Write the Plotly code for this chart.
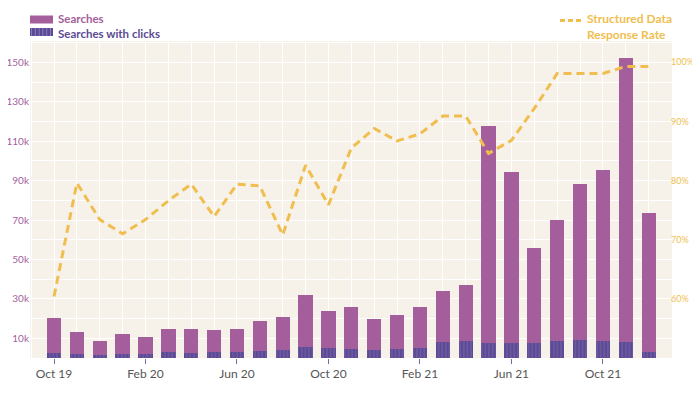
import plotly.graph_objects as go

months = ["Oct 19", "Nov 19", "Dec 19", "Jan 20", "Feb 20", "Mar 20", "Apr 20", "May 20", "Jun 20",
          "Jul 20", "Aug 20", "Sep 20", "Oct 20", "Nov 20", "Dec 20", "Jan 21", "Feb 21", "Mar 21",
          "Apr 21", "May 21", "Jun 21", "Jul 21", "Aug 21", "Sep 21", "Oct 21", "Nov 21", "Dec 21"]

searches = [20200, 13200, 8500, 12400, 10500, 14600, 14600, 14100, 14600,
            18600, 20600, 31800, 23700, 25700, 19600, 21700, 25900, 34200,
            36900, 117600, 94400, 55700, 69900, 88300, 95600, 152000, 73400]

searches_with_clicks = [2400, 2000, 1400, 2200, 1900, 2900, 2400, 2900, 3200,
                        3400, 4300, 5400, 4900, 4800, 3900, 4400, 5100, 8100,
                        8500, 7600, 7800, 7500, 8500, 9000, 8500, 8100, 3200]

response_rate = [60.4, 79.6, 73.4, 71.0, 73.4, 76.6, 79.4, 73.9, 79.4,
                 79.1, 70.8, 82.6, 75.9, 85.5, 88.8, 86.7, 87.9, 90.9,
                 90.9, 84.6, 86.8, 92.2, 98.1, 98.1, 98.1, 99.3, 99.3]

tick_months = ["Oct 19", "Feb 20", "Jun 20", "Oct 20", "Feb 21", "Jun 21", "Oct 21"]
left_ticks = [10000, 30000, 50000, 70000, 90000, 110000, 130000, 150000]
right_ticks = [60, 70, 80, 90, 100]

x = list(range(len(months)))
tickvals = [months.index(m) for m in tick_months]

PURPLE = "#A55E9C"
DARK = "#5B4A93"
GOLD = "#F0BE4F"
BG = "#F6F2EA"
FONT = "Lato"

fig = go.Figure()
fig.add_trace(go.Bar(x=x, y=searches, width=0.625, marker=dict(color=PURPLE, line=dict(width=0)),
                     name="Searches", showlegend=False))
fig.add_trace(go.Bar(x=x, y=searches_with_clicks, width=0.625,
                     marker=dict(color=DARK, line=dict(width=0),
                                 pattern=dict(shape="|", fillmode="overlay", bgcolor=DARK,
                                              fgcolor="#8C7BBE", size=3.6, solidity=0.3)),
                     name="Searches with clicks", showlegend=False))
fig.add_trace(go.Scatter(x=x, y=response_rate, yaxis="y2", mode="lines",
                         line=dict(color=GOLD, width=3, dash="8px,5px"),
                         name="Structured Data Response Rate", showlegend=False))

# page body has an 8px margin; the figure is sized so that it fills the 700x394 window
OFF = 8
W, H = 700 - OFF, 394 - OFF
L, R, T, B = 30 - OFF, 28, 41 - OFF, 36
pw, ph = W - L - R, H - T - B


def px(xp):
    return (xp - OFF - L) / pw


def py(yp):
    return (H - B - (yp - OFF)) / ph


fig.update_layout(
    width=W, height=H,
    margin=dict(l=L, r=R, t=T, b=B, autoexpand=False),
    paper_bgcolor="white", plot_bgcolor=BG,
    barmode="overlay", bargap=0,
    font=dict(family=FONT, size=12, color="#555555"),
    xaxis=dict(range=[-1.05, 27.02], tickvals=tickvals, ticktext=tick_months, automargin=False,
               showgrid=True, gridcolor="white", gridwidth=1,
               minor=dict(dtick=1, tick0=0, showgrid=True, gridcolor="white", gridwidth=1),
               ticks="outside", ticklen=5, tickcolor="#6B7394", tickwidth=1,
               tickfont=dict(size=12, color="#555555"), zeroline=False, showline=False),
    yaxis=dict(range=[0, 160800], tickvals=left_ticks, automargin=False,
               ticktext=[f"{v // 1000}k" for v in left_ticks],
               showgrid=True, gridcolor="white", gridwidth=1,
               minor=dict(dtick=10000, tick0=0, showgrid=True, gridcolor="white", gridwidth=1),
               tickfont=dict(size=10, color=PURPLE), zeroline=False, showline=False),
    yaxis2=dict(range=[50, 103.6], overlaying="y", side="right", tickvals=right_ticks, automargin=False,
                ticktext=[f"{v}%" for v in right_ticks], showgrid=False, zeroline=False,
                ticklabelstandoff=-2, tickfont=dict(size=9, color=GOLD)),
    showlegend=False,
)

# legend (left)
fig.add_shape(type="rect", xref="paper", yref="paper", x0=px(30), x1=px(53), y0=py(23.5), y1=py(15.5),
              fillcolor=PURPLE, line=dict(width=0))
fig.add_shape(type="rect", xref="paper", yref="paper", x0=px(30), x1=px(53), y0=py(36), y1=py(28),
              fillcolor=DARK, line=dict(width=0))
for i in range(6):
    xs = 31.5 + i * 3.8
    fig.add_shape(type="line", xref="paper", yref="paper", x0=px(xs), x1=px(xs), y0=py(36), y1=py(28),
                  line=dict(color="#8C7BBE", width=1))
fig.add_annotation(xref="paper", yref="paper", x=px(56), y=py(26), xanchor="left", yanchor="middle",
                   text=f"<b><span style='color:{PURPLE}'>Searches</span><br>"
                        f"<span style='color:{DARK}'>Searches with clicks</span></b>",
                   showarrow=False, align="left", font=dict(size=11.5, color=PURPLE, family=FONT))

# legend (right)
fig.add_shape(type="line", xref="paper", yref="paper", x0=px(560), x1=px(582), y0=py(20.5), y1=py(20.5),
              line=dict(color=GOLD, width=3, dash="5px,3px"))
fig.add_annotation(xref="paper", yref="paper", x=px(585), y=py(26.5), xanchor="left", yanchor="middle",
                   text="<b>Structured Data<br>Response Rate</b>", showarrow=False, align="left",
                   font=dict(size=12, color=GOLD, family=FONT))

fig.write_html("out.html")
